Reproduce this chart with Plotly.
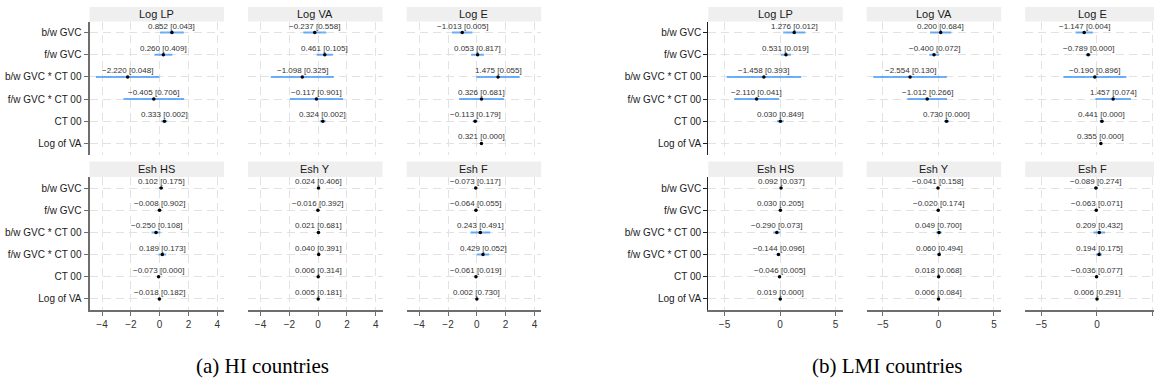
import plotly.graph_objects as go

W, H = 1154, 387

row_labels = ["b/w GVC", "f/w GVC", "b/w GVC * CT 00", "f/w GVC * CT 00", "CT 00", "Log of VA"]
row_pos = [1, 2, 3, 4, 5, 6]
outcomes = ["Log LP", "Log VA", "Log E", "Esh HS", "Esh Y", "Esh F"]
captions = ["(a) HI countries", "(b) LMI countries"]

# ---- (a) HI countries: coefficient, p-value, 95% CI bounds ----
hi_loglp_coef = [0.852, 0.260, -2.220, -0.405, 0.333, None]
hi_loglp_pval = [0.043, 0.409, 0.048, 0.706, 0.002, None]
hi_loglp_lo = [0.03, -0.36, -4.42, -2.51, 0.12, None]
hi_loglp_hi = [1.68, 0.88, -0.02, 1.70, 0.54, None]

hi_logva_coef = [-0.237, 0.461, -1.098, -0.117, 0.324, None]
hi_logva_pval = [0.558, 0.105, 0.325, 0.901, 0.002, None]
hi_logva_lo = [-1.03, -0.10, -3.29, -1.96, 0.12, None]
hi_logva_hi = [0.56, 1.02, 1.09, 1.73, 0.53, None]

hi_loge_coef = [-1.013, 0.053, 1.475, 0.326, -0.113, 0.321]
hi_loge_pval = [0.005, 0.817, 0.055, 0.681, 0.179, 0.000]
hi_loge_lo = [-1.72, -0.40, -0.03, -1.23, -0.28, 0.28]
hi_loge_hi = [-0.31, 0.50, 2.98, 1.88, 0.05, 0.36]

hi_eshhs_coef = [0.102, -0.008, -0.250, 0.189, -0.073, -0.018]
hi_eshhs_pval = [0.175, 0.902, 0.108, 0.173, 0.000, 0.182]
hi_eshhs_lo = [-0.05, -0.14, -0.56, -0.08, -0.10, -0.04]
hi_eshhs_hi = [0.25, 0.12, 0.06, 0.46, -0.05, 0.01]

hi_eshy_coef = [0.024, -0.016, 0.021, 0.040, 0.006, 0.005]
hi_eshy_pval = [0.406, 0.392, 0.681, 0.391, 0.314, 0.181]
hi_eshy_lo = [-0.03, -0.05, -0.08, -0.05, -0.01, 0.00]
hi_eshy_hi = [0.08, 0.02, 0.12, 0.13, 0.02, 0.01]

hi_eshf_coef = [-0.073, -0.064, 0.243, 0.429, -0.061, 0.002]
hi_eshf_pval = [0.117, 0.055, 0.491, 0.052, 0.019, 0.730]
hi_eshf_lo = [-0.16, -0.13, -0.45, 0.00, -0.11, -0.01]
hi_eshf_hi = [0.02, 0.00, 0.93, 0.86, -0.01, 0.01]

# ---- (b) LMI countries ----
lmi_loglp_coef = [1.276, 0.531, -1.458, -2.110, 0.030, None]
lmi_loglp_pval = [0.012, 0.019, 0.393, 0.041, 0.849, None]
lmi_loglp_lo = [0.28, 0.09, -4.80, -4.13, -0.28, None]
lmi_loglp_hi = [2.27, 0.98, 1.89, -0.09, 0.34, None]

lmi_logva_coef = [0.200, -0.400, -2.554, -1.012, 0.730, None]
lmi_logva_pval = [0.684, 0.072, 0.130, 0.266, 0.000, None]
lmi_logva_lo = [-0.76, -0.84, -5.86, -2.80, 0.51, None]
lmi_logva_hi = [1.16, 0.04, 0.75, 0.77, 0.95, None]

lmi_loge_coef = [-1.147, -0.789, -0.190, 1.457, 0.441, 0.355]
lmi_loge_pval = [0.004, 0.000, 0.896, 0.074, 0.000, 0.000]
lmi_loge_lo = [-1.93, -1.02, -3.03, -0.14, 0.25, 0.30]
lmi_loge_hi = [-0.37, -0.56, 2.65, 3.06, 0.63, 0.41]

lmi_eshhs_coef = [0.092, 0.030, -0.290, -0.144, -0.046, 0.019]
lmi_eshhs_pval = [0.037, 0.205, 0.073, 0.096, 0.005, 0.000]
lmi_eshhs_lo = [0.01, -0.02, -0.61, -0.31, -0.08, 0.01]
lmi_eshhs_hi = [0.18, 0.08, 0.03, 0.03, -0.01, 0.03]

lmi_eshy_coef = [-0.041, -0.020, 0.049, 0.060, 0.018, 0.006]
lmi_eshy_pval = [0.158, 0.174, 0.700, 0.494, 0.068, 0.084]
lmi_eshy_lo = [-0.10, -0.05, -0.20, -0.11, 0.00, 0.00]
lmi_eshy_hi = [0.02, 0.01, 0.30, 0.23, 0.04, 0.01]

lmi_eshf_coef = [-0.089, -0.063, 0.209, 0.194, -0.036, 0.006]
lmi_eshf_pval = [0.274, 0.071, 0.432, 0.175, 0.077, 0.291]
lmi_eshf_lo = [-0.25, -0.13, -0.31, -0.09, -0.08, -0.01]
lmi_eshf_hi = [0.07, 0.01, 0.73, 0.47, 0.00, 0.02]

panels = [
    [
        (hi_loglp_coef, hi_loglp_pval, hi_loglp_lo, hi_loglp_hi),
        (hi_logva_coef, hi_logva_pval, hi_logva_lo, hi_logva_hi),
        (hi_loge_coef, hi_loge_pval, hi_loge_lo, hi_loge_hi),
        (hi_eshhs_coef, hi_eshhs_pval, hi_eshhs_lo, hi_eshhs_hi),
        (hi_eshy_coef, hi_eshy_pval, hi_eshy_lo, hi_eshy_hi),
        (hi_eshf_coef, hi_eshf_pval, hi_eshf_lo, hi_eshf_hi),
    ],
    [
        (lmi_loglp_coef, lmi_loglp_pval, lmi_loglp_lo, lmi_loglp_hi),
        (lmi_logva_coef, lmi_logva_pval, lmi_logva_lo, lmi_logva_hi),
        (lmi_loge_coef, lmi_loge_pval, lmi_loge_lo, lmi_loge_hi),
        (lmi_eshhs_coef, lmi_eshhs_pval, lmi_eshhs_lo, lmi_eshhs_hi),
        (lmi_eshy_coef, lmi_eshy_pval, lmi_eshy_lo, lmi_eshy_hi),
        (lmi_eshf_coef, lmi_eshf_pval, lmi_eshf_lo, lmi_eshf_hi),
    ],
]

# ---- layout geometry (pixels) ----
ROW_Y = [(21.5, 154.5), (177.0, 310.0)]
STRIP_Y = [(7.0, 21.5), (161.5, 177.0)]
PANEL_COLS = [
    [(89.5, 224.0), (248.0, 382.5), (406.7, 541.2)],
    [(708.3, 842.8), (866.7, 1001.2), (1025.2, 1159.7)],
]
PANEL_RANGE = [(-4.87, 4.47), (-6.46, 5.65)]
PANEL_DTICK = [2, 5]
PANEL_AXIS_COLOR = ["#6e6e6e", "#222222"]
CAPTION_X = [262, 887]
CAPTION_Y = 366

FONT = "Liberation Sans, Arial, sans-serif"
GRID = "#e2e2e2"
CI_COLOR = "rgba(40,140,250,0.68)"


def fmt(v):
    return f"{v:.3f}".replace("-", "\u2212")


fig = go.Figure()
layout = dict(
    width=W, height=H, margin=dict(l=0, r=0, t=0, b=0), autosize=False,
    paper_bgcolor="white", plot_bgcolor="white", showlegend=False,
)
shapes, annotations = [], []

ax = 0
for p, facets in enumerate(panels):
    for k, (coef, pval, lo, hi) in enumerate(facets):
        ax += 1
        row, col = divmod(k, 3)
        xs = "" if ax == 1 else str(ax)
        x0, x1 = PANEL_COLS[p][col]
        y0, y1 = ROW_Y[row]
        r0, r1 = PANEL_RANGE[p]
        x1c = min(x1, W)
        r1c = r0 + (x1c - x0) / (x1 - x0) * (r1 - r0)
        acol = PANEL_AXIS_COLOR[p]

        layout["xaxis" + xs] = dict(
            domain=[x0 / W, x1c / W], range=[r0, r1c], anchor="y" + xs,
            tickmode="linear", tick0=0, dtick=PANEL_DTICK[p],
            showgrid=True, gridcolor=GRID, gridwidth=1, griddash="8px,5px",
            zeroline=False, showline=(row == 1), linecolor="#6e6e6e", linewidth=2,
            ticks="outside" if row == 1 else "", ticklen=4, tickwidth=1, tickcolor="#6e6e6e",
            showticklabels=(row == 1), tickfont=dict(family=FONT, size=10, color="#333333"),
            fixedrange=True,
        )
        layout["yaxis" + xs] = dict(
            domain=[1 - y1 / H, 1 - y0 / H], range=[6.5, 0.5], anchor="x" + xs,
            tickmode="array", tickvals=row_pos, ticktext=row_labels,
            showgrid=True, gridcolor=GRID, gridwidth=1, griddash="8px,5px",
            zeroline=False, showline=(col == 0), linecolor=acol,
            linewidth=2 if p == 0 else 1.3,
            ticks="outside" if col == 0 else "", ticklen=4, tickwidth=1, tickcolor=acol,
            showticklabels=(col == 0), tickfont=dict(family=FONT, size=10, color="#1a1a1a"),
            fixedrange=True,
        )

        # confidence interval segments
        cx, cy = [], []
        for i, b in enumerate(coef):
            if b is None:
                continue
            cx += [lo[i], hi[i], None]
            cy += [row_pos[i], row_pos[i], None]
        fig.add_trace(go.Scatter(
            x=cx, y=cy, mode="lines", xaxis="x" + xs, yaxis="y" + xs,
            line=dict(color=CI_COLOR, width=2), hoverinfo="skip", cliponaxis=False,
        ))
        # point estimates
        px = [b for b in coef if b is not None]
        py = [row_pos[i] for i, b in enumerate(coef) if b is not None]
        fig.add_trace(go.Scatter(
            x=px, y=py, mode="markers", xaxis="x" + xs, yaxis="y" + xs,
            marker=dict(color="black", size=3.5), cliponaxis=False,
        ))
        # value labels "coef [p]"
        for i, b in enumerate(coef):
            if b is None:
                continue
            annotations.append(dict(
                x=b, y=row_pos[i], xref="x" + xs, yref="y" + xs,
                text=f"{fmt(b)} [{pval[i]:.3f}]", showarrow=False, yshift=6.5,
                font=dict(family=FONT, size=8, color="#333333"),
            ))

        # facet strip
        sy0, sy1 = STRIP_Y[row]
        shapes.append(dict(
            type="rect", xref="paper", yref="paper", layer="below",
            x0=x0 / W, x1=x1c / W, y0=1 - sy1 / H, y1=1 - sy0 / H,
            fillcolor="#efefef", line=dict(width=0),
        ))
        annotations.append(dict(
            x=(x0 + x1) / 2 / W, y=1 - (sy0 + sy1) / 2 / H, xref="paper", yref="paper",
            text=outcomes[k], showarrow=False, xanchor="center", yanchor="middle",
            font=dict(family=FONT, size=11, color="#1a1a1a"),
        ))

    annotations.append(dict(
        x=CAPTION_X[p] / W, y=1 - CAPTION_Y / H, xref="paper", yref="paper",
        text=captions[p], showarrow=False, xanchor="center", yanchor="middle",
        font=dict(family="Liberation Serif, DejaVu Serif, serif", size=21, color="black"),
    ))

layout["shapes"] = shapes
layout["annotations"] = annotations
fig.update_layout(**layout)
fig.write_html("out.html")
